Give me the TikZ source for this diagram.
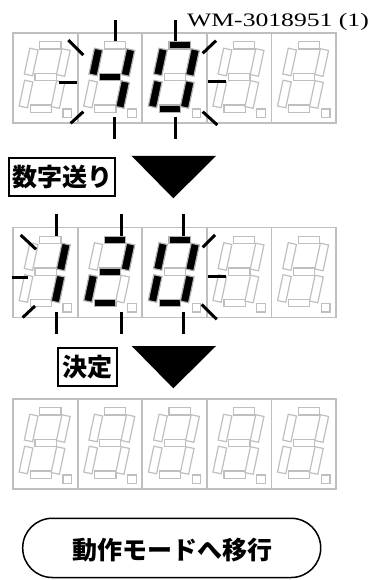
\documentclass[tikz,border=0pt]{standalone}
\usepackage{fontspec}
\setmainfont{Liberation Serif}
\newfontfamily\jp{Noto Sans CJK JP}
\usetikzlibrary{calc}
\tikzset{
  cellbox/.style={draw=gray!50, line width=1.8pt},
  segoff/.style={draw=gray!50, fill=white, line width=1.2pt},
  segon/.style={draw=gray!60, fill=black, line width=1.2pt},
  blink/.style={draw=black, line width=3pt},
  jplabel/.style={font=\jp\bfseries\fontsize{25}{25}\selectfont, inner sep=0pt},
  tagbox/.style={jplabel, draw=black, line width=2pt},
  arrowtri/.style={fill=black},
}
\newcommand\vseg[3]{\begin{scope}[shift={(#1,#2)},rotate=-12]\path[#3] (-4.2,-13.2) rectangle (4.2,13.2);\end{scope}}
\newcommand\sdigit[9]{%
  \begin{scope}[shift={(#1,#2)}]
    \draw[cellbox] (0,0) rectangle (64.6,90);
    \path[seg#3] (26.8,8.8) rectangle (48,16);
    \path[seg#9] (22,40.4) rectangle (43.2,47.6);
    \path[seg#6] (17.2,72) rectangle (38.4,79.2);
    \vseg{50.3}{29.5}{seg#4}
    \vseg{45}{61.5}{seg#5}
    \vseg{13}{61}{seg#7}
    \vseg{18.2}{29}{seg#8}
    \path[segoff] (50,76) rectangle (58.5,84.5);
  \end{scope}}
\begin{document}
\begin{tikzpicture}[x=1pt,y=-1pt]
\useasboundingbox (0,0) rectangle (372,580);
% title
\node[anchor=base west, inner sep=0pt] (wm) at (187,26.5) {\scalebox{1.35}[1]{\fontsize{19}{19}\selectfont WM-3018951 (1)}};
% row 1: _ 4 0 _ _
\sdigit{13}{33}{off}{off}{off}{off}{off}{off}{off}
\sdigit{77.6}{33}{off}{on}{on}{off}{off}{on}{on}
\sdigit{142.2}{33}{on}{on}{on}{on}{on}{on}{off}
\sdigit{206.8}{33}{off}{off}{off}{off}{off}{off}{off}
\sdigit{271.4}{33}{off}{off}{off}{off}{off}{off}{off}
% row 1 blink marks
\draw[blink] (115,20) -- (115,41.5);
\draw[blink] (175.5,20) -- (175.5,41.5);
\draw[blink] (114.5,117) -- (114.5,139);
\draw[blink] (175.5,117) -- (175.5,139);
\draw[blink] (68.3,40) -- (83.3,55);
\draw[blink] (59.3,82.5) -- (76.7,82.5);
\draw[blink] (70.7,123.3) -- (83.3,111.7);
\draw[blink] (202.7,53.3) -- (216,40.7);
\draw[blink] (208.3,81.5) -- (226,81.5);
\draw[blink] (202.7,111.7) -- (217.3,125);
% step 1
\node[tagbox, minimum width=105.7pt, minimum height=37.7pt] (step1) at (62.2,177.2) {数字送り};
\fill[arrowtri] (131.7,156) -- (216,156) -- (173.3,198.3) -- cycle;
% row 2: 1 2 0 _ _
\sdigit{13}{227.5}{off}{on}{on}{off}{off}{off}{off}
\sdigit{77.6}{227.5}{on}{on}{off}{on}{on}{off}{on}
\sdigit{142.2}{227.5}{on}{on}{on}{on}{on}{on}{off}
\sdigit{206.8}{227.5}{off}{off}{off}{off}{off}{off}{off}
\sdigit{271.4}{227.5}{off}{off}{off}{off}{off}{off}{off}
% row 2 blink marks
\draw[blink] (56.7,214) -- (56.7,235.5);
\draw[blink] (121.2,214) -- (121.2,235.5);
\draw[blink] (183.8,214) -- (183.8,235.5);
\draw[blink] (56.7,311.5) -- (56.7,333.5);
\draw[blink] (121.2,311.5) -- (121.2,333.5);
\draw[blink] (183.8,311.5) -- (183.8,333.5);
\draw[blink] (20.7,235) -- (36,249.3);
\draw[blink] (11.7,277) -- (28.3,277);
\draw[blink] (22.7,317.5) -- (35,306);
\draw[blink] (202.7,247.3) -- (215,235);
\draw[blink] (208.3,276.5) -- (226,276.5);
\draw[blink] (201.7,304.5) -- (216.7,319.3);
% step 2
\node[tagbox, minimum width=59pt, minimum height=37.7pt] (step2) at (87.8,367.2) {決定};
\fill[arrowtri] (131.7,346) -- (216,346) -- (173.3,388.3) -- cycle;
% row 3: blank
\sdigit{13}{399}{off}{off}{off}{off}{off}{off}{off}
\sdigit{77.6}{399}{off}{off}{off}{off}{off}{off}{off}
\sdigit{142.2}{399}{off}{off}{off}{off}{off}{off}{off}
\sdigit{206.8}{399}{off}{off}{off}{off}{off}{off}{off}
\sdigit{271.4}{399}{off}{off}{off}{off}{off}{off}{off}
% button
\draw[line width=1.5pt, rounded corners=29.5pt] (22.7,518.3) rectangle (320.7,577.5);
\node[jplabel] (go) at (172.5,550.5) {動作モードへ移行};
\end{tikzpicture}
\end{document}
